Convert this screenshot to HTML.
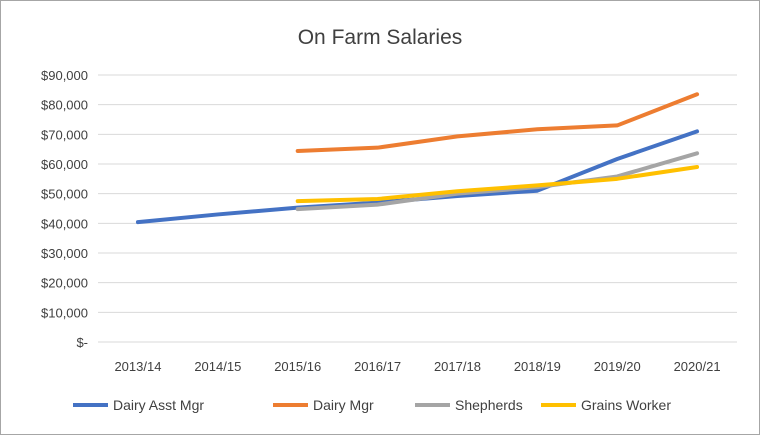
<!DOCTYPE html>
<html><head><meta charset="utf-8"><style>
body{margin:0;background:#fff;}
svg{display:block;font-family:"Liberation Sans",Arial,sans-serif;}
</style></head><body>
<svg id="chart" width="760" height="435">
<rect x="0.5" y="0.5" width="759" height="434" fill="#fff" stroke="#a6a6a6"/>
<text x="380" y="44" text-anchor="middle" font-size="21" fill="#404040">On Farm Salaries</text>
<g id="grid"></g><g id="yt"></g><g id="xt"></g><g id="series"></g><g id="legend"></g>
</svg>
<script>
const categories=["2013/14","2014/15","2015/16","2016/17","2017/18","2018/19","2019/20","2020/21"];
const yTicks=[0,10000,20000,30000,40000,50000,60000,70000,80000,90000];
const dairyAsstMgr=[40400,43000,45300,47000,49200,51000,61700,71000];
const dairyMgr=[null,null,64400,65500,69300,71700,73000,83500];
const shepherds=[null,null,44800,46300,50000,52200,55800,63600];
const grainsWorker=[null,null,47500,48200,50800,52800,55000,59000];
const seriesNames=["Dairy Asst Mgr","Dairy Mgr","Shepherds","Grains Worker"];
const seriesColors=["#4472c4","#ed7d31","#a5a5a5","#ffc000"];
const seriesData=[dairyAsstMgr,dairyMgr,shepherds,grainsWorker];
const NS="http://www.w3.org/2000/svg";
const x0=98,x1=737,yTop=75,yBot=342;
const xs=i=>x0+(x1-x0)/categories.length*(i+0.5);
const ys=v=>yBot-(v/90000)*(yBot-yTop);
function mk(t,a,p){const e=document.createElementNS(NS,t);for(const k in a)e.setAttribute(k,a[k]);p.appendChild(e);return e;}
const grid=document.getElementById('grid'),yt=document.getElementById('yt'),xt=document.getElementById('xt');
yTicks.forEach(v=>{
 const l=mk('line',{x1:x0,x2:x1,y1:ys(v),y2:ys(v),stroke:'#d9d9d9','stroke-width':1},grid);
 
 
 const t=mk('text',{x:88,y:ys(v)+5,'text-anchor':'end','font-size':13,fill:'#404040'},yt);
 t.textContent=v===0?'$-':'$'+v.toLocaleString('en-US');
 
 
});
categories.forEach((c,i)=>{
 const t=mk('text',{x:xs(i),y:371,'text-anchor':'middle','font-size':13,fill:'#404040'},xt);
 t.textContent=c;
 
 
});
const sg=document.getElementById('series');
seriesData.forEach((d,s)=>{
 let pts=[];d.forEach((v,i)=>{if(v!=null)pts.push(xs(i)+','+ys(v));});
 const p=mk('polyline',{points:pts.join(' '),fill:'none',stroke:seriesColors[s],'stroke-width':4,'stroke-linejoin':'round','stroke-linecap':'round'},sg);
 
 
});
const lg=document.getElementById('legend');
const lx=[73,273,415,541];
seriesNames.forEach((n,s)=>{
 const g=mk('g',{},lg);
 
 
 mk('line',{x1:lx[s],x2:lx[s]+35,y1:405,y2:405,stroke:seriesColors[s],'stroke-width':4},g);
 const t=mk('text',{x:lx[s]+40,y:410,'font-size':14,fill:'#404040'},g);t.textContent=n;
});
</script>
</body></html>
